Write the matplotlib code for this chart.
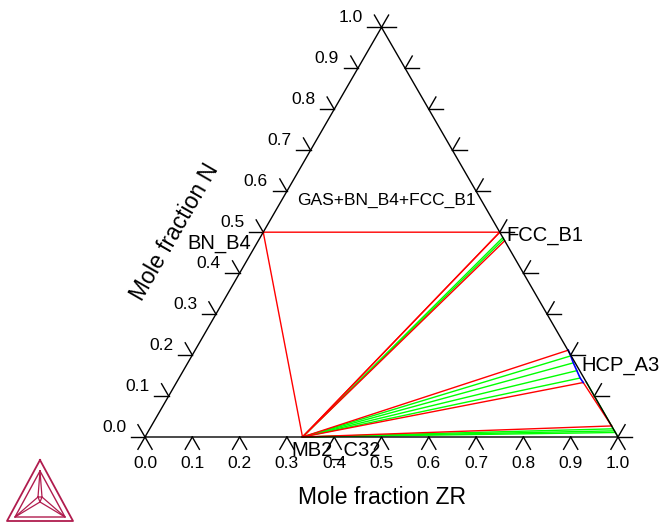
import numpy as np
import matplotlib
matplotlib.use('Agg')
import matplotlib.pyplot as plt

plt.rcParams['font.family'] = ['Liberation Sans', 'DejaVu Sans']

# axis ticks (same for both fractions)
tick_values = [0.0, 0.1, 0.2, 0.3, 0.4, 0.5, 0.6, 0.7, 0.8, 0.9, 1.0]
tick_labels = ['0.0', '0.1', '0.2', '0.3', '0.4', '0.5', '0.6', '0.7', '0.8', '0.9', '1.0']

# phase compositions (mole fraction ZR, mole fraction N)
bn_b4 = (0.0, 0.5)
fcc_b1 = (0.5, 0.5)
mb2_c32 = (0.333, 0.0)

# tie lines from MB2_C32 to FCC_B1
fcc_tie_zr = [0.500, 0.513, 0.517, 0.521]
fcc_tie_n = [0.500, 0.487, 0.483, 0.479]
fcc_tie_col = ['red', 'lime', 'lime', 'red']

# tie lines from MB2_C32 to HCP_A3
hcp_tie_zr = [0.789, 0.801, 0.815, 0.832, 0.848, 0.860]
hcp_tie_n = [0.212, 0.198, 0.181, 0.162, 0.144, 0.133]
hcp_tie_col = ['red', 'lime', 'lime', 'lime', 'lime', 'red']

# tie lines from MB2_C32 towards the ZR corner
zr_tie_zr = [0.973, 0.980, 0.985, 0.989]
zr_tie_n = [0.027, 0.020, 0.015, 0.011]
zr_tie_col = ['red', 'lime', 'lime', 'lime']

# HCP_A3 side of the corner region
hcp_edge_zr = [0.866, 0.998]
hcp_edge_n = [0.134, 0.002]

H = np.sqrt(3) / 2


def tern(zr, n):
    zr = np.asarray(zr, dtype=float)
    n = np.asarray(n, dtype=float)
    return zr + n / 2, n * H


fig = plt.figure(figsize=(6.62, 5.23), dpi=100)
ax = fig.add_axes([0, 0, 1, 1])
ax.set_xlim(-145 / 473, 517 / 473)
ax.set_ylim(-86 / 473, 437 / 473)
ax.axis('off')

# triangle frame
fx, fy = tern([0, 1, 0, 0], [0, 0, 1, 0])
ax.plot(fx, fy, color='black', lw=1.0, zorder=5)

# ticks
L = 0.03
for t in tick_values:
    # bottom edge
    x, y = tern(t, 0)
    ax.plot([x, x - L / 2], [y, y - L * H], color='black', lw=1.0)
    ax.plot([x, x + L / 2], [y, y - L * H], color='black', lw=1.0)
    # left edge
    x, y = tern(0, t)
    ax.plot([x, x - L], [y, y], color='black', lw=1.0)
    ax.plot([x, x - L / 2], [y, y + L * H], color='black', lw=1.0)
    # right edge
    x, y = tern(1 - t, t)
    ax.plot([x, x + L], [y, y], color='black', lw=1.0)
    ax.plot([x, x + L / 2], [y, y + L * H], color='black', lw=1.0)

for t, lab in zip(tick_values, tick_labels):
    x, y = tern(t, 0)
    ax.text(x, y - 0.055, lab, ha='center', va='center', fontsize=12.5)
    x, y = tern(0, t)
    ax.text(x - 0.04, y + 0.021, lab, ha='right', va='center', fontsize=12.5)

# tie triangles and tie lines
bx, by = tern([bn_b4[0], fcc_b1[0], mb2_c32[0], bn_b4[0]],
              [bn_b4[1], fcc_b1[1], mb2_c32[1], bn_b4[1]])
ax.plot(bx, by, color='red', lw=1.0, zorder=3)

mx, my = tern(*mb2_c32)
for zr, n, c in zip(fcc_tie_zr, fcc_tie_n, fcc_tie_col):
    x, y = tern(zr, n)
    ax.plot([mx, x], [my, y], color=c, lw=1.0, zorder=3 if c == 'red' else 2)
for zr, n, c in zip(hcp_tie_zr, hcp_tie_n, hcp_tie_col):
    x, y = tern(zr, n)
    ax.plot([mx, x], [my, y], color=c, lw=1.0, zorder=3 if c == 'red' else 2)
for zr, n, c in zip(zr_tie_zr, zr_tie_n, zr_tie_col):
    x, y = tern(zr, n)
    ax.plot([mx, x], [my, y], color=c, lw=1.0, zorder=3 if c == 'red' else 2)

# HCP_A3 phase boundary
hx, hy = tern(hcp_tie_zr, hcp_tie_n)
ax.plot(hx, hy, color='blue', lw=1.2, zorder=4)

# three-phase edge HCP - corner phase
ex, ey = tern([hcp_tie_zr[-1], zr_tie_zr[0]], [hcp_tie_n[-1], zr_tie_n[0]])
ax.plot(ex, ey, color='red', lw=1.0, zorder=3)
gx, gy = tern(hcp_edge_zr, hcp_edge_n)
ax.plot(gx, gy, color='lime', lw=1.0, zorder=2)

# phase labels
ax.text(0.5095, 0.501, 'GAS+BN_B4+FCC_B1', ha='center', va='center', fontsize=12.5)
ax.text(0.764, 0.427, 'FCC_B1', ha='left', va='center', fontsize=14.5)
ax.text(0.224, 0.410, 'BN_B4', ha='right', va='center', fontsize=14.5)
ax.text(0.923, 0.152, 'HCP_A3', ha='left', va='center', fontsize=14.5)
ax.text(0.309, -0.0275, 'MB2_C32', ha='left', va='center', fontsize=14.5)

# axis titles
ax.text(0.5, -0.127, 'Mole fraction ZR', ha='center', va='center', fontsize=16.5)
ax.text(0.063, 0.433, 'Mole fraction N', ha='center', va='center', fontsize=16.5,
        rotation=60, rotation_mode='anchor')

# logo
lg = fig.add_axes([0, 0, 1, 1])
lg.set_xlim(0, 662)
lg.set_ylim(523, 0)
lg.axis('off')
logo_col = '#b01c4e'
cx, cy = 40, 500
outer = [(40, 460), (7, 521), (73, 521), (40, 460)]
inner = [(40, 471), (15, 517), (65, 517), (40, 471)]
hub = [(38, 497), (42, 497), (40, 502)]
lg.plot(*zip(*outer), color=logo_col, lw=1.3)
lg.plot(*zip(*inner), color=logo_col, lw=1.0)
for a, b in [(inner[0], hub[0]), (inner[0], hub[1]), (inner[1], hub[0]),
             (inner[1], hub[2]), (inner[2], hub[1]), (inner[2], hub[2])]:
    lg.plot([a[0], b[0]], [a[1], b[1]], color=logo_col, lw=0.9)
lg.plot(*zip(*(hub + [hub[0]])), color=logo_col, lw=0.9)

fig.savefig('out.png', dpi=100)
